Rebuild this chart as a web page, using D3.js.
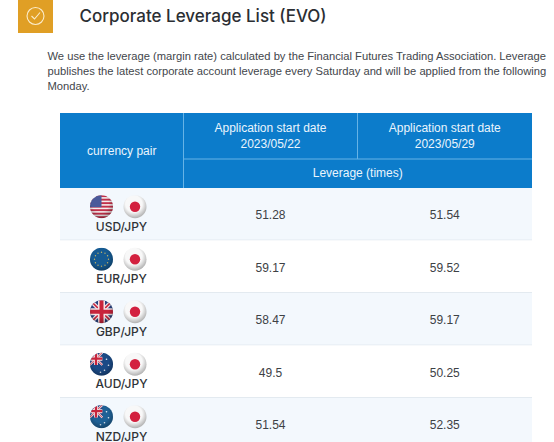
<!DOCTYPE html>
<html lang="en">
<head>
<meta charset="UTF-8">
<title>Corporate Leverage List (EVO)</title>
<style>
    html, body { margin: 0; background: #fff; overflow: hidden; }
    svg { display: block; font-family: "Liberation Sans", Arial, sans-serif; }
</style>
</head>
<body>
<svg id="chart" width="554" height="442"></svg>
<script src="https://d3js.org/d3.v7.min.js"></script>
<script>
// values
const titleText = 'Corporate Leverage List (EVO)';
const introLines = [
    'We use the leverage (margin rate) calculated by the Financial Futures Trading Association. Leverage',
    'publishes the latest corporate account leverage every Saturday and will be applied from the following',
    'Monday.'
];
const pairs = ['USD/JPY', 'EUR/JPY', 'GBP/JPY', 'AUD/JPY', 'NZD/JPY'];
const startDates = ['2023/05/22', '2023/05/29'];
const leverageFirst = [51.28, 59.17, 58.47, 49.5, 51.54];
const leverageSecond = [51.54, 59.52, 59.17, 50.25, 52.35];

const svg = d3.select('#chart');
const defs = svg.append('defs');

const x = d3.scaleOrdinal().domain(['pair', 0, 1, 'end']).range([60, 183.5, 357.5, 532]);
const y = d3.scaleBand().domain(pairs).range([188, 188 + 5 * 52.5]);
const blue = '#0c7ccb';
const line = '#66b3e6';

// header badge
svg.append('rect').attr('x', 18).attr('y', 0).attr('width', 35).attr('height', 33).attr('fill', '#e09f25');
svg.append('circle').attr('cx', 35.5).attr('cy', 16).attr('r', 8.5)
    .attr('fill', 'none').attr('stroke', '#fbeccb').attr('stroke-width', 1.1);
svg.append('path').attr('d', 'M31.5 16 L34.5 19 L40 12.5')
    .attr('fill', 'none').attr('stroke', '#fbeccb').attr('stroke-width', 1.1);

svg.append('text').attr('x', 79.5).attr('y', 22)
    .attr('font-family', 'Inter, "Liberation Sans", sans-serif')
    .attr('font-size', 17).attr('font-weight', 500).attr('fill', '#2b2e33')
    .text(titleText);

svg.selectAll('.intro').data(introLines).join('text')
    .attr('class', 'intro')
    .attr('x', 47.5)
    .attr('y', (d, i) => 60 + i * 15)
    .attr('font-size', 11.2)
    .attr('fill', '#42464b')
    .text(d => d);

// table header
svg.append('rect').attr('x', x('pair')).attr('y', 113)
    .attr('width', x('end') - x('pair')).attr('height', 75).attr('fill', blue);
svg.append('path')
    .attr('d', `M${x(0)} 113V188M${x(1)} 113V159M${x(0)} 159H${x('end')}`)
    .attr('stroke', line).attr('fill', 'none');

const headText = (tx, ty, t) => svg.append('text')
    .attr('x', tx).attr('y', ty).attr('text-anchor', 'middle')
    .attr('font-size', 12).attr('fill', '#eaf5fd').text(t);

headText((x('pair') + x(0)) / 2, 155, 'currency pair');
startDates.forEach((d, i) => {
    const next = i === 0 ? x(1) : x('end');
    headText((x(i) + next) / 2, 132, 'Application start date');
    headText((x(i) + next) / 2, 148, d);
});
headText((x(0) + x('end')) / 2, 177, 'Leverage (times)');

// body rows
const rows = svg.selectAll('.row').data(pairs).join('g')
    .attr('class', 'row')
    .attr('transform', d => `translate(0,${y(d)})`);

rows.append('rect')
    .attr('x', x('pair')).attr('width', x('end') - x('pair'))
    .attr('height', y.bandwidth())
    .attr('fill', (d, i) => i % 2 === 0 ? '#f3f8fd' : '#ffffff');
rows.append('line')
    .attr('x1', x('pair')).attr('x2', x('end'))
    .attr('y1', y.bandwidth() - 0.5).attr('y2', y.bandwidth() - 0.5)
    .attr('stroke', '#e3eaf0');

rows.append('text')
    .attr('x', 121.5).attr('y', 42.5)
    .attr('font-family', 'Inter, "Liberation Sans", sans-serif')
    .attr('text-anchor', 'middle').attr('font-size', 12).attr('font-weight', 500)
    .attr('fill', '#2f3337').text(d => d);

[leverageFirst, leverageSecond].forEach((vals, c) => {
    const next = c === 0 ? x(1) : x('end');
    rows.append('text')
        .attr('x', (x(c) + next) / 2).attr('y', 31)
        .attr('text-anchor', 'middle').attr('font-size', 12)
        .attr('fill', '#3d4145')
        .text((d, i) => vals[i]);
});

// flags: a clipped circle with a spherical shading on top
const R = 11.5;
const shade = defs.append('radialGradient').attr('id', 'shade')
    .attr('cx', '45%').attr('cy', '38%').attr('r', '65%');
shade.append('stop').attr('offset', '55%').attr('stop-color', '#000').attr('stop-opacity', 0);
shade.append('stop').attr('offset', '100%').attr('stop-color', '#000').attr('stop-opacity', 0.32);
defs.append('clipPath').attr('id', 'ball').append('circle').attr('r', R);

function union(g, s) {
    g.append('rect').attr('x', -R * s).attr('y', -R * s).attr('width', 2 * R * s).attr('height', 2 * R * s).attr('fill', '#27407f');
    g.append('path').attr('d', `M${-R * s} ${-R * s}L${R * s} ${R * s}M${R * s} ${-R * s}L${-R * s} ${R * s}`)
        .attr('stroke', '#f3e4e6').attr('stroke-width', 4 * s);
    g.append('path').attr('d', `M${-R * s} ${-R * s}L${R * s} ${R * s}M${R * s} ${-R * s}L${-R * s} ${R * s}`)
        .attr('stroke', '#c8243c').attr('stroke-width', 1.6 * s);
    g.append('path').attr('d', `M0 ${-R * s}V${R * s}M${-R * s} 0H${R * s}`)
        .attr('stroke', '#f3e4e6').attr('stroke-width', 7 * s);
    g.append('path').attr('d', `M0 ${-R * s}V${R * s}M${-R * s} 0H${R * s}`)
        .attr('stroke', '#c8243c').attr('stroke-width', 4 * s);
}

function southern(g, base) {
    g.append('rect').attr('x', -R).attr('y', -R).attr('width', 2 * R).attr('height', 2 * R).attr('fill', base);
    const corner = g.append('g').attr('transform', 'translate(-5.5,-5.5)');
    union(corner, 0.55);
    [[5, -5], [7, 1], [3, 6], [-1, 8]].forEach(p => {
        g.append('circle').attr('cx', p[0]).attr('cy', p[1]).attr('r', 0.8).attr('fill', '#e8eef5');
    });
}

const drawFlag = {
    USD(g) {
        g.append('rect').attr('x', -R).attr('y', -R).attr('width', 2 * R).attr('height', 2 * R).attr('fill', '#f4eeee');
        d3.range(7).forEach(i => g.append('rect')
            .attr('x', -R).attr('y', -R + i * 3.5).attr('width', 2 * R).attr('height', 1.9).attr('fill', '#c2304a'));
        g.append('rect').attr('x', -R).attr('y', -R).attr('width', R).attr('height', R + 0.5).attr('fill', '#4a5a9a');
    },
    EUR(g) {
        g.append('rect').attr('x', -R).attr('y', -R).attr('width', 2 * R).attr('height', 2 * R).attr('fill', '#155a92');
        d3.range(12).forEach(i => {
            const a = i / 12 * 2 * Math.PI;
            g.append('circle').attr('cx', 7 * Math.cos(a)).attr('cy', 7 * Math.sin(a)).attr('r', 0.7).attr('fill', '#c9b765');
        });
    },
    GBP(g) { union(g, 1); },
    AUD(g) { southern(g, '#1b4a86'); },
    NZD(g) { southern(g, '#1f6196'); },
    JPY(g) {
        g.append('rect').attr('x', -R).attr('y', -R).attr('width', 2 * R).attr('height', 2 * R).attr('fill', '#f8f8f8');
        g.append('circle').attr('r', 5.2).attr('fill', '#d3213f');
    }
};

function flag(sel, name, cx) {
    const g = sel.append('g').attr('transform', `translate(${cx},18.7)`);
    const inner = g.append('g').attr('clip-path', 'url(#ball)');
    drawFlag[name](inner);
    g.append('circle').attr('r', R).attr('fill', 'url(#shade)');
}

rows.each(function (d) {
    const sel = d3.select(this);
    const [base, quote] = d.split('/');
    flag(sel, base, 101.5);
    flag(sel, quote, 135);
});
</script>
</body>
</html>
